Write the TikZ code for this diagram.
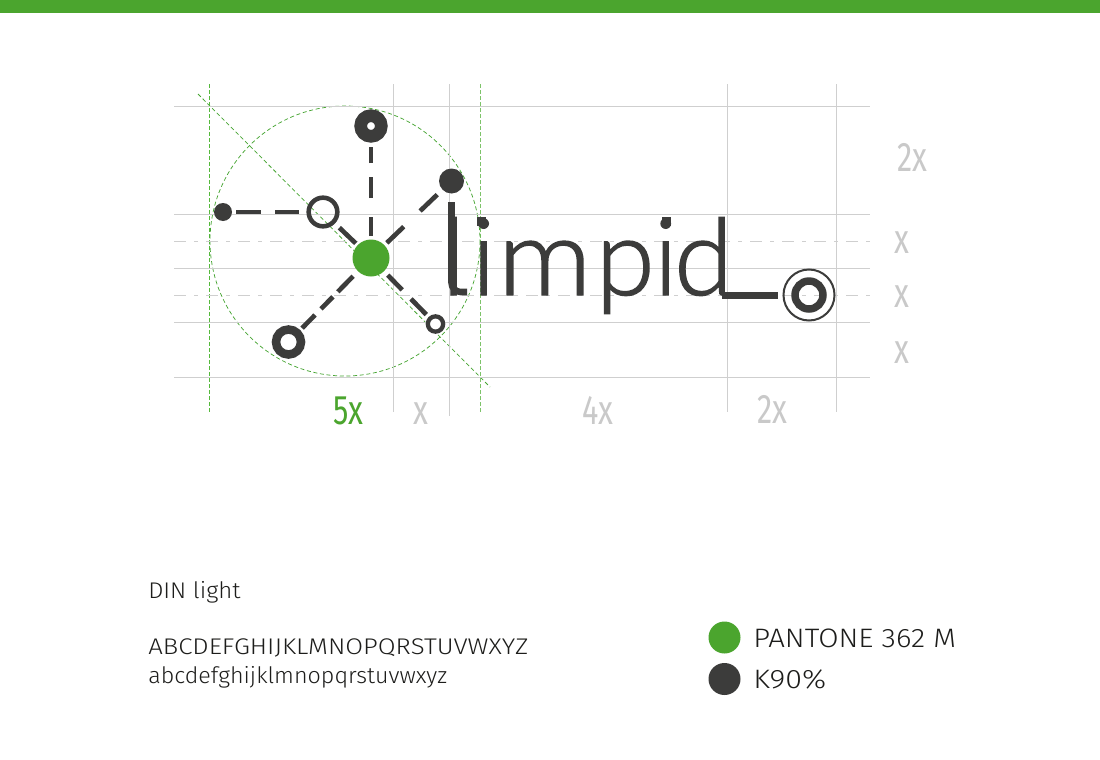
\documentclass[tikz,border=0pt]{standalone}
\usepackage{graphicx}
\usepackage{fontspec}
\setmainfont{Fira Sans Light}
\newfontfamily\labfont{Fira Sans}
\newfontfamily\logofont[FakeBold=1.3]{Lato Light}
\definecolor{brand}{HTML}{4BA52E}
\definecolor{guidegreen}{RGB}{70,165,50}
\definecolor{guidemid}{RGB}{85,185,60}
\definecolor{guidelight}{RGB}{125,195,105}
\definecolor{inkdark}{HTML}{3C3C3B}
\definecolor{gridgrey}{HTML}{CFCFCF}
\definecolor{labgrey}{HTML}{C9C9C9}
\definecolor{txt}{HTML}{1D1D1B}
\tikzset{
 gridline/.style={draw=gridgrey,line width=.75pt},
 dashgrid/.style={draw=gridgrey,line width=.75pt,dash pattern=on 9pt off 6pt on 3pt off 6pt},
 guide/.style={draw=guidegreen,line width=.55pt,dash pattern=on 3pt off 2pt},
 guidev/.style={line width=.75pt,dash pattern=on 3pt off 1.5pt},
 spoke/.style={draw=inkdark,line width=3.5pt},
 solidnode/.style={circle,fill=inkdark,inner sep=0pt,outer sep=0pt,minimum size=#1},
 ringnode/.style={circle,draw=inkdark,inner sep=0pt,minimum size=#1},
 lab/.style={font=\labfont\fontsize{31}{31}\selectfont,text=labgrey,anchor=base,inner sep=0pt,xscale=.74},
 info/.style={text=txt,anchor=base west,inner sep=0pt},
}
\begin{document}
\begin{tikzpicture}[x=.75pt,y=-.75pt]
\useasboundingbox (0,0) rectangle (1100,760);
\fill[white] (0,0) rectangle (1100,760);
\fill[brand] (0,0) rectangle (1100,13);
% guides first
\draw[guidev,draw=guidelight] (480,84) -- (480,413);
\draw[guidev,draw=guidemid] (209.5,84) -- (209.5,413);
\draw[guide] (198,94) -- (490,387);
\draw[guide] (345,241) circle[radius=135];
% grid
\foreach \yy in {106,214,268,322,377} \draw[gridline] (174,\yy) -- (870,\yy);
\foreach \yy in {241.5,295.5} \draw[dashgrid] (174,\yy) -- (870,\yy);
\draw[gridline] (393,84) -- (393,412);
\draw[gridline] (449,84) -- (449,416);
\draw[gridline] (727,84) -- (727,412);
\draw[gridline] (836,84) -- (836,412);
% nodes
\node[solidnode=27.75pt,fill=brand] (hub) at (371,258) {};
\node[ringnode=15.5pt,line width=9.5pt,fill=white] (top) at (371,126) {};
\node[solidnode=18.75pt] (upright) at (451.5,181) {};
\node[solidnode=13.5pt] (dotleft) at (223,212) {};
\node[ringnode=21.5pt,line width=3.4pt] (open) at (323,212) {};
\node[ringnode=18.75pt,line width=6.4pt,fill=white] (lowleft) at (288.5,342) {};
\node[ringnode=11.5pt,line width=3.2pt,fill=white] (lowright) at (435.5,324) {};
% connectors
\draw[spoke,dash pattern=on 0pt off 2.6pt on 14.25pt off 14.25pt on 15.75pt off 10.5pt on 12pt off 30pt] (hub) -- (top);
\draw[spoke,dash pattern=on 0pt off 2.55pt on 17.55pt off 17pt on 17.8pt off 30pt] (hub) -- (upright);
\draw[spoke,dash pattern=on 0pt off 2pt on 17pt off 30pt] (hub) -- (open);
\draw[spoke,dash pattern=on 0pt off 5.25pt on 16.4pt off 5.3pt on 12.7pt off 6.4pt on 13.8pt off 30pt] (hub) -- (lowleft);
\draw[spoke,dash pattern=on 0pt off 4.1pt on 15.45pt off 9.5pt on 16.4pt off 30pt] (hub) -- (lowright);
\draw[spoke,dash pattern=on 0pt off 5.6pt on 18pt off 10.5pt on 18.75pt off 30pt] (open) -- (dotleft);
% wordmark
\node[anchor=base west,inner sep=0pt,text=inkdark,font=\logofont\fontsize{80}{80}\selectfont] (word) at (441.5,295) {l\kern4.85pt i\kern1.5pt \scalebox{1.1}[1]{m}\kern2.9pt p\kern-.7pt i\kern-2.6pt d};
\draw[draw=inkdark,line width=4.9pt,rounded corners=7pt] (451.5,202) -- (451.5,292) -- (467,292);
\fill[inkdark] (476.5,216.5) rectangle (485.5,226);
\fill[inkdark] (661.5,216.5) rectangle (670.5,226);
\coordinate (barstart) at (722,295.5);
\coordinate (barend) at (778,295.5);
\draw[draw=inkdark,line width=5pt] (barstart) -- (barend);
\draw[draw=inkdark,line width=1.5pt] (809,295) circle[radius=25.5];
\draw[draw=inkdark,line width=5.6pt] (809,295) circle[radius=14];
% measure labels
\node[lab,text=brand] (l5x) at (348,424) {5x};
\node[lab] (lxa) at (420.5,424) {x};
\node[lab] (l4x) at (598,424) {4x};
\node[lab] (l2xb) at (772,423) {2x};
\node[lab] (l2xr) at (912,171) {2x};
\node[lab] (lxr1) at (902,253) {x};
\node[lab] (lxr2) at (902,307) {x};
\node[lab] (lxr3) at (902,363) {x};
% specimen
\node[info,font=\fontsize{17}{17}\selectfont,xscale=1.057] (din) at (148,598) {DIN light};
\node[info,font=\fontsize{17}{17}\selectfont,xscale=1.138] (upper) at (148,654) {ABCDEFGHIJKLMNOPQRSTUVWXYZ};
\node[info,font=\fontsize{17}{17}\selectfont,xscale=1.027] (lower) at (148,683) {abcdefghijklmnopqrstuvwxyz};
% swatches
\node[solidnode=24pt,fill=brand] (swgreen) at (724.5,637.5) {};
\node[solidnode=24pt] (swdark) at (724.5,679) {};
\node[info,font=\fontsize{20}{20}\selectfont,xscale=1.104] (pantone) at (753,647) {PANTONE 362 M};
\node[info,font=\fontsize{20}{20}\selectfont,xscale=1.14] (k90) at (753,688) {K90\%};
\end{tikzpicture}
\end{document}
